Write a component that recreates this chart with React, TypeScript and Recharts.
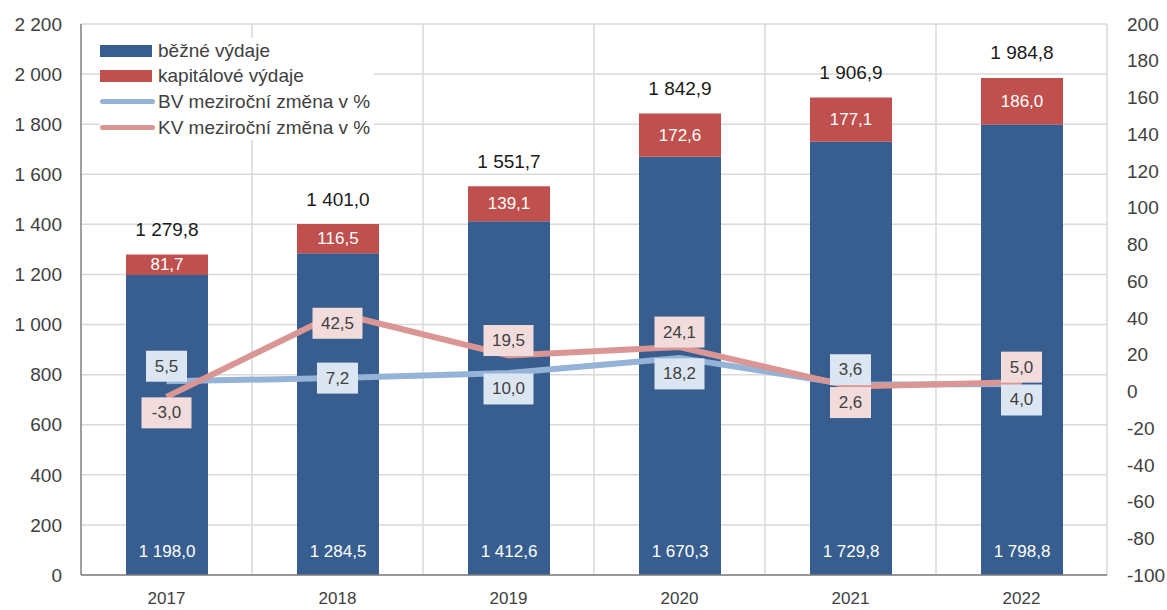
import {
  ComposedChart,
  Bar,
  Line,
  XAxis,
  YAxis,
  CartesianGrid,
  LabelList,
} from "recharts";

const years = ["2017", "2018", "2019", "2020", "2021", "2022"];
const bezne = [1198.0, 1284.5, 1412.6, 1670.3, 1729.8, 1798.8];
const kapitalove = [81.7, 116.5, 139.1, 172.6, 177.1, 186.0];
const celkem = [1279.8, 1401.0, 1551.7, 1842.9, 1906.9, 1984.8];
const bvZmena = [5.5, 7.2, 10.0, 18.2, 3.6, 4.0];
const kvZmena = [-3.0, 42.5, 19.5, 24.1, 2.6, 5.0];

const leftTicks = [0, 200, 400, 600, 800, 1000, 1200, 1400, 1600, 1800, 2000, 2200];
const rightTicks = [-100, -80, -60, -40, -20, 0, 20, 40, 60, 80, 100, 120, 140, 160, 180, 200];

const data = years.map((y, i) => ({
  year: y,
  bezne: bezne[i],
  kapitalove: kapitalove[i],
  celkem: celkem[i],
  bv: bvZmena[i],
  kv: kvZmena[i],
}));

const FONT = "'Liberation Sans', Arial, sans-serif";
const BLUE = "#375E8F";
const RED = "#C0504D";
const BV_LINE = "#95B3D7";
const KV_LINE = "#D99694";

function fmt(v: number, d = 1) {
  const neg = v < 0;
  const s = Math.abs(v).toFixed(d);
  const [int, dec] = s.split(".");
  const intS = int.replace(/\B(?=(\d{3})+(?!\d))/g, " ");
  return (neg ? "-" : "") + intS + (dec !== undefined ? "," + dec : "");
}

// which side the line label sits on: close values get split above/below
function labelOffset(series: "bv" | "kv", i: number) {
  const own = series === "bv" ? bvZmena[i] : kvZmena[i];
  const other = series === "bv" ? kvZmena[i] : bvZmena[i];
  if (Math.abs(own - other) > 20) return series === "kv" ? 10 : 0;
  return own >= other ? -15 : 16;
}

function makeLineLabel(series: "bv" | "kv", fill: string) {
  return (props: any) => {
    const { x, y, value, index } = props;
    const txt = fmt(value);
    const w = 14 + txt.length * 9;
    const h = 31;
    const cy = y + labelOffset(series, index);
    return (
      <g>
        <rect x={x - w / 2} y={cy - h / 2} width={w} height={h} fill={fill} />
        <text
          x={x}
          y={cy}
          textAnchor="middle"
          dominantBaseline="central"
          fontFamily={FONT}
          fontSize={17}
          fill="#404040"
        >
          {txt}
        </text>
      </g>
    );
  };
}

const bezneLabel = (props: any) => {
  const { x, y, width, height, value } = props;
  return (
    <text
      x={x + width / 2}
      y={y + height - 24}
      textAnchor="middle"
      dominantBaseline="central"
      fontFamily={FONT}
      fontSize={17}
      fill="#fff"
    >
      {fmt(value)}
    </text>
  );
};

const kapLabel = (props: any) => {
  const { x, y, width, height, value, index } = props;
  return (
    <g>
      <text
        x={x + width / 2}
        y={y + height / 2}
        textAnchor="middle"
        dominantBaseline="central"
        fontFamily={FONT}
        fontSize={17}
        fill="#fff"
      >
        {fmt(value)}
      </text>
      <text
        x={x + width / 2}
        y={y - 25}
        textAnchor="middle"
        dominantBaseline="central"
        fontFamily={FONT}
        fontSize={19}
        fill="#1a1a1a"
      >
        {fmt(celkem[index])}
      </text>
    </g>
  );
};

const legendItems = [
  { name: "běžné výdaje", color: BLUE, type: "bar" },
  { name: "kapitálové výdaje", color: RED, type: "bar" },
  { name: "BV meziroční změna v %", color: BV_LINE, type: "line" },
  { name: "KV meziroční změna v %", color: KV_LINE, type: "line" },
];

const LegendBox = () => (
  <div
    style={{
      position: "absolute",
      left: 100,
      top: 38,
      fontFamily: FONT,
      fontSize: 19,
      color: "#404040",
      background: "#fff",
      paddingRight: 4,
    }}
  >
    {legendItems.map((it) => (
      <div key={it.name} style={{ display: "flex", alignItems: "center", height: 25.6 }}>
        {it.type === "bar" ? (
          <span style={{ width: 52, height: 12, background: it.color, marginRight: 6 }} />
        ) : (
          <span
            style={{ width: 55, height: 5, borderRadius: 3, background: it.color, marginRight: 3 }}
          />
        )}
        <span>{it.name}</span>
      </div>
    ))}
  </div>
);

export default function App() {
  return (
    <div style={{ position: "absolute", left: 0, top: 0, width: 1167, height: 610, background: "#fff" }}>
      <ComposedChart
        width={1167}
        height={610}
        data={data}
        margin={{ top: 24, right: 0, bottom: 0, left: 0 }}
        barCategoryGap={0}
      >
        <CartesianGrid
          yAxisId="left"
          stroke="#D9D9D9"
          strokeWidth={1.5}
          verticalCoordinatesGenerator={({ offset }: any) =>
            years.map((_, i) => offset.left + ((i + 1) * offset.width) / years.length)
          }
        />
        <XAxis
          dataKey="year"
          tickLine={false}
          tickSize={0}
          tickMargin={17}
          height={35}
          axisLine={{ stroke: "#7F7F7F", strokeWidth: 1.5 }}
          tick={{ fontFamily: FONT, fontSize: 17, fill: "#404040" }}
        />
        <YAxis
          yAxisId="left"
          width={81}
          domain={[0, 2200]}
          ticks={leftTicks}
          tickFormatter={(v) => fmt(v, 0)}
          tickLine={false}
          tickSize={0}
          tickMargin={19}
          axisLine={{ stroke: "#7F7F7F", strokeWidth: 1.5 }}
          tick={{ fontFamily: FONT, fontSize: 19, fill: "#404040" }}
          interval={0}
        />
        <YAxis
          yAxisId="right"
          orientation="right"
          width={60}
          domain={[-100, 200]}
          ticks={rightTicks}
          tickFormatter={(v) => fmt(v, 0)}
          tickLine={false}
          tickSize={0}
          tickMargin={20}
          axisLine={false}
          tick={{ fontFamily: FONT, fontSize: 19, fill: "#404040", textAnchor: "start" }}
          interval={0}
        />
        <Bar
          yAxisId="left"
          dataKey="bezne"
          name="běžné výdaje"
          stackId="a"
          fill={BLUE}
          barSize={82}
          isAnimationActive={false}
        >
          <LabelList dataKey="bezne" content={bezneLabel} />
        </Bar>
        <Bar
          yAxisId="left"
          dataKey="kapitalove"
          name="kapitálové výdaje"
          stackId="a"
          fill={RED}
          barSize={82}
          isAnimationActive={false}
        >
          <LabelList dataKey="kapitalove" content={kapLabel} />
        </Bar>
        <Line
          yAxisId="right"
          dataKey="bv"
          name="BV meziroční změna v %"
          stroke={BV_LINE}
          strokeWidth={6}
          dot={false}
          activeDot={false}
          isAnimationActive={false}
        >
          <LabelList dataKey="bv" content={makeLineLabel("bv", "#DCE6F2")} />
        </Line>
        <Line
          yAxisId="right"
          dataKey="kv"
          name="KV meziroční změna v %"
          stroke={KV_LINE}
          strokeWidth={6}
          dot={false}
          activeDot={false}
          isAnimationActive={false}
        >
          <LabelList dataKey="kv" content={makeLineLabel("kv", "#F2DCDB")} />
        </Line>
      </ComposedChart>
      <LegendBox />
    </div>
  );
}
